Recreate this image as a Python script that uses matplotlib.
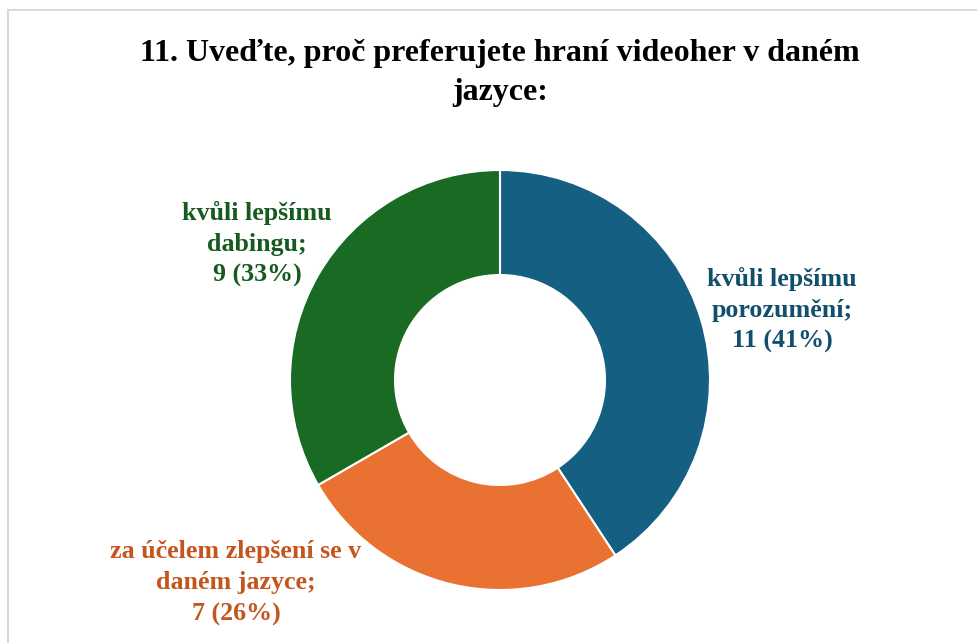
import matplotlib.pyplot as plt
from matplotlib.lines import Line2D

# data
categories = ['kvůli lepšímu\nporozumění;', 'za účelem zlepšení se v\ndaném jazyce;', 'kvůli lepšímu\ndabingu;']
values = [11, 7, 9]
percents = [41, 26, 33]
colors = ['#156082', '#E97132', '#196B24']
label_colors = ['#124F6C', '#C4561D', '#155A1E']
label_pos = [(782, 333), (236, 60), (257, 399)]

W, H = 978, 643
fig = plt.figure(figsize=(W / 100, H / 100), dpi=100)
ax = fig.add_axes([0, 0, 1, 1])

# chart frame (only top and left edges visible)
fig.add_artist(Line2D([8 / W, 8 / W], [0, 1 - 10 / H], color='#D9D9D9', lw=1.5))
fig.add_artist(Line2D([8 / W, 1], [1 - 10 / H, 1 - 10 / H], color='#D9D9D9', lw=1.5))

ax.pie(values, colors=colors, startangle=90, counterclock=False,
       center=(500, 263), radius=210,
       wedgeprops=dict(width=105, edgecolor='white', linewidth=1.5))

# pie() resets the limits, so set the pixel-like data space afterwards
ax.set_xlim(0, W)
ax.set_ylim(0, H)
ax.set_aspect('equal')
ax.axis('off')

for cat, v, p, c, (x, y) in zip(categories, values, percents, label_colors, label_pos):
    ax.text(x, y, f'{cat}\n{v} ({p}%)', ha='center', va='center', color=c,
            fontsize=18.7, fontweight='bold', family='Liberation Serif', linespacing=1.45)

ax.text(500, 570, '11. Uveďte, proč preferujete hraní videoher v daném\njazyce:',
        ha='center', va='center', fontsize=23, fontweight='bold',
        family='Liberation Serif', linespacing=1.42)

fig.savefig('out.png', dpi=100)
